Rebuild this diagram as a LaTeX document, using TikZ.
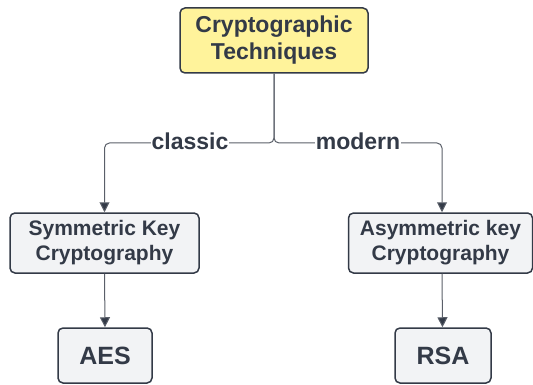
\documentclass[tikz,border=0pt]{standalone}
\usepackage{fontspec}
\setmainfont{Liberation Sans}
\usetikzlibrary{arrows.meta}
\definecolor{ink}{HTML}{333A47}
\definecolor{linec}{HTML}{5A5F69}
\definecolor{ybox}{HTML}{FFF39B}
\definecolor{gbox}{HTML}{F2F3F5}
\tikzset{
  box/.style={draw=ink, line width=1.5pt, rounded corners=5pt, align=center, inner sep=0pt, text=ink, font=\bfseries\fontsize{21}{25}\selectfont},
  conn/.style={draw=linec, line width=1pt, -{Triangle[length=10pt,width=10pt,fill=ink]}},
  lbl/.style={fill=white, text=ink, inner sep=1pt, font=\bfseries\fontsize{23}{26}\selectfont}
}
\begin{document}
\begin{tikzpicture}[x=1pt,y=1pt]
\useasboundingbox (0,0) rectangle (533,-385);
\node[box, fill=ybox, minimum width=188pt, minimum height=65pt, font=\bfseries\fontsize{23}{27}\selectfont] (top) at (274,-40.5) {Cryptographic\\Techniques};
\node[box, fill=gbox, minimum width=189pt, minimum height=60pt] (sym) at (104.5,-243) {Symmetric Key\\Cryptography};
\node[box, fill=gbox, minimum width=184pt, minimum height=60pt] (asym) at (440.5,-243) {Asymmetric key\\Cryptography};
\node[box, fill=gbox, minimum width=94pt, minimum height=55pt, font=\bfseries\fontsize{25}{28}\selectfont] (aes) at (105,-355.5) {AES};
\node[box, fill=gbox, minimum width=96pt, minimum height=55pt, font=\bfseries\fontsize{25}{28}\selectfont] (rsa) at (443,-355.5) {RSA};
\coordinate (j) at (274,-143);
\draw[conn, rounded corners=5pt] (top.south) -- (j) -| (sym.north);
\draw[conn, rounded corners=5pt] (top.south) -- (j) -| ([xshift=1.5pt]asym.north);
\draw[conn] (sym.south) -- (aes.north);
\draw[conn] ([xshift=1.5pt]asym.south) -- ([xshift=-0.5pt]rsa.north);
\node[lbl] (cl) at (190,-141) {classic};
\node[lbl] (mo) at (358,-141) {modern};
\end{tikzpicture}
\end{document}
